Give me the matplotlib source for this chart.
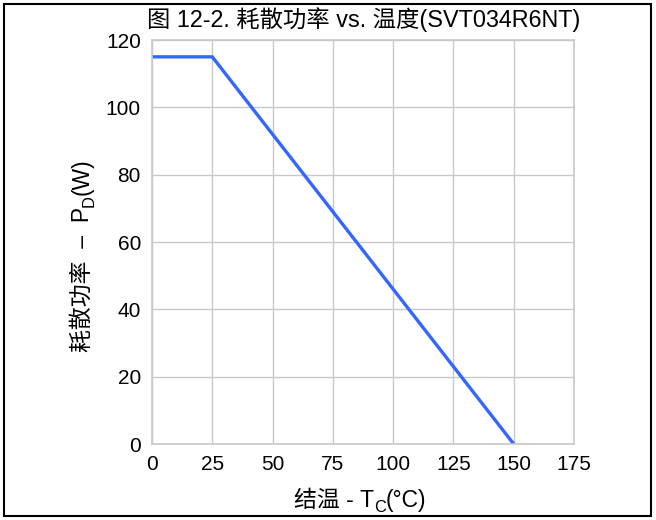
import matplotlib
matplotlib.use("Agg")
import matplotlib.pyplot as plt
from matplotlib.patches import Rectangle

plt.rcParams['font.family'] = ['Liberation Sans', 'Noto Sans CJK SC', 'DejaVu Sans']

# derating curve
temp_c = [0, 25, 150]
power_w = [115, 115, 0]

x_ticks = [0, 25, 50, 75, 100, 125, 150, 175]
y_ticks = [0, 20, 40, 60, 80, 100, 120]

title = "图 12-2. 耗散功率 vs. 温度(SVT034R6NT)"
# labels as (text, is_subscript) pieces, mathtext can't fall back to CJK fonts
x_label = [("结温 - T", False), ("C", True), ("(°C)", False)]
y_label = [("耗散功率  –  P", False), ("D", True), ("(W)", False)]

W, H = 656, 520
fig = plt.figure(figsize=(W / 100, H / 100), dpi=100)
ax = fig.add_axes([152 / W, 1 - 444 / H, 422 / W, 404 / H])

ax.plot(temp_c, power_w, color='#3366FF', lw=2.4, solid_joinstyle='miter')

ax.set_xlim(0, 175)
ax.set_ylim(0, 120)
ax.set_xticks(x_ticks)
ax.set_yticks(y_ticks)
ax.grid(True, color='#C8C8C8', lw=1)
ax.set_axisbelow(True)
for s in ax.spines.values():
    s.set_color('#C8C8C8')
    s.set_linewidth(1.2)
ax.tick_params(length=0, labelsize=15, pad=8)

fig.text(364 / W, 1 - 20 / H, title, fontsize=16.8, ha='center', va='center')

renderer = fig.canvas.get_renderer()


def piece_width(txt, size):
    t = fig.text(0, 0, txt.replace(' ', '\u00a0'), fontsize=size)
    w = t.get_window_extent(renderer).width
    t.remove()
    return w


def compose(pieces, cx, cy, size, vertical=False):
    """draw label pieces centred on (cx, cy) in pixels, subscripts smaller"""
    sub = size * 0.72
    widths = [piece_width(p, sub if s else size) for p, s in pieces]
    pos = -sum(widths) / 2
    for (p, s), w in zip(pieces, widths):
        off = 4.5 if s else 0
        if vertical:
            x, y = cx + off, cy + pos
        else:
            x, y = cx + pos, cy - off
        fig.text(x / W, y / H, p.replace(' ', '\u00a0'), fontsize=sub if s else size,
                 rotation=90 if vertical else 0, rotation_mode='anchor',
                 ha='left', va='baseline')
        pos += w


compose(x_label, 360, H - 507, 16.5)
compose(y_label, 89, H - 255, 16.5, vertical=True)

fig.patches.append(Rectangle((4 / W, 4 / H), 647 / W, 512 / H, transform=fig.transFigure,
                             fill=False, edgecolor='black', lw=1.5))

fig.savefig("out.png", dpi=100)
